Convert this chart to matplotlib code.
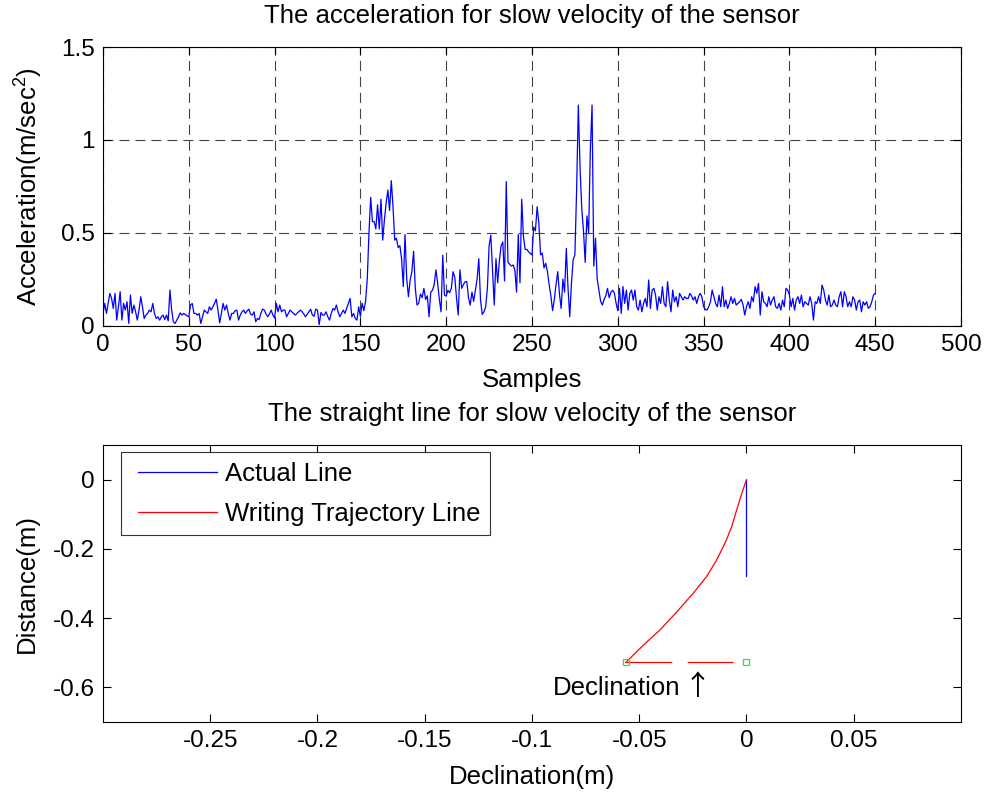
import matplotlib
matplotlib.use("Agg")
import matplotlib.pyplot as plt
from matplotlib.lines import Line2D
from matplotlib.legend_handler import HandlerLine2D
import numpy as np

plt.rcParams['font.family'] = ['Liberation Sans', 'DejaVu Sans']
plt.rcParams['mathtext.fontset'] = 'custom'
plt.rcParams['mathtext.rm'] = 'Liberation Sans'
plt.rcParams['lines.scale_dashes'] = False

# ---------------- data: top panel (acceleration per sample) ----------------
acc_seg_a = [0.065, 0.119, 0.065, 0.120, 0.173, 0.146, 0.092, 0.173, 0.029, 0.101,
             0.182, 0.029, 0.119, 0.083, 0.128, 0.011, 0.164, 0.065, 0.110, 0.074,
             0.029, 0.083, 0.155, 0.101, 0.038, 0.056, 0.065, 0.083, 0.074, 0.119,
             0.065, 0.038, 0.047, 0.029, 0.047, 0.056, 0.032, 0.056, 0.025, 0.191,
             0.083, 0.020, 0.011, 0.029, 0.047, 0.068, 0.056, 0.065, 0.059, 0.052,
             0.047, 0.110, 0.119, 0.065, 0.065, 0.056, 0.065, 0.011, 0.047, 0.083,
             0.074, 0.065, 0.101, 0.083, 0.101, 0.119, 0.142, 0.083, 0.014, 0.065,
             0.119, 0.083, 0.110, 0.065, 0.029, 0.065, 0.065, 0.080]
acc_seg_b = [0.083, 0.029, 0.056, 0.074, 0.083, 0.065, 0.079, 0.088, 0.062, 0.056,
             0.074, 0.020, 0.038, 0.032, 0.065, 0.088, 0.083, 0.062, 0.047, 0.062,
             0.083, 0.056, 0.040, 0.119, 0.074, 0.110, 0.074, 0.083, 0.083, 0.047,
             0.065, 0.083, 0.074, 0.065, 0.056, 0.065, 0.074, 0.083, 0.074, 0.062,
             0.047, 0.060, 0.074, 0.088, 0.056, 0.050, 0.088, 0.083, 0.005, 0.070,
             0.056, 0.056, 0.074, 0.047, 0.029, 0.065, 0.092, 0.083, 0.110, 0.074,
             0.047, 0.065, 0.083, 0.065, 0.092, 0.119, 0.146, 0.047, 0.065, 0.038,
             0.029, 0.100, 0.050, 0.120]
acc_seg_c = [0.08, 0.13, 0.25, 0.50, 0.69, 0.56, 0.56, 0.52, 0.65, 0.52,
             0.68, 0.46, 0.57, 0.66, 0.73, 0.62, 0.78, 0.64, 0.46, 0.47,
             0.42, 0.43, 0.36, 0.21, 0.49, 0.25, 0.155, 0.245, 0.29, 0.40,
             0.20, 0.11, 0.12, 0.17, 0.15, 0.20, 0.14, 0.16, 0.047, 0.18,
             0.19, 0.22, 0.30, 0.23, 0.14, 0.074, 0.379, 0.164, 0.158, 0.19,
             0.176, 0.20, 0.29, 0.26, 0.15, 0.056, 0.30, 0.20, 0.22, 0.236,
             0.236, 0.15, 0.11, 0.18, 0.13, 0.19, 0.25, 0.36, 0.137, 0.06,
             0.074, 0.10, 0.20, 0.43, 0.487, 0.30, 0.11]
acc_seg_d = [0.36, 0.23, 0.35, 0.43, 0.45, 0.24, 0.775, 0.34, 0.33, 0.32,
             0.326, 0.30, 0.18, 0.49, 0.23, 0.68, 0.48, 0.41, 0.41, 0.397,
             0.388, 0.38, 0.53, 0.51, 0.64, 0.55, 0.38, 0.39, 0.31, 0.335,
             0.29, 0.22, 0.16, 0.08, 0.14, 0.22, 0.29, 0.17, 0.092, 0.25,
             0.18, 0.415, 0.20, 0.047, 0.23, 0.355, 0.38, 0.73, 1.187, 0.85,
             0.63, 0.51, 0.34, 0.59, 0.50, 0.945, 1.187, 0.32, 0.47, 0.25,
             0.19, 0.13, 0.11, 0.14, 0.16, 0.20, 0.15, 0.18, 0.19, 0.175,
             0.12, 0.08, 0.20, 0.065, 0.21]
acc_seg_e = [0.119, 0.191, 0.083, 0.173, 0.191, 0.137, 0.191, 0.101, 0.083, 0.137,
             0.074, 0.119, 0.146, 0.101, 0.245, 0.092, 0.191, 0.200, 0.164, 0.083,
             0.155, 0.119, 0.209, 0.119, 0.101, 0.236, 0.137, 0.074, 0.191, 0.128,
             0.155, 0.101, 0.173, 0.155, 0.137, 0.155, 0.146, 0.146, 0.173, 0.159,
             0.137, 0.155, 0.119, 0.155, 0.173, 0.155, 0.101, 0.087, 0.083, 0.101,
             0.128, 0.191, 0.155, 0.119, 0.101, 0.164, 0.101, 0.209, 0.101, 0.137,
             0.092, 0.119, 0.155, 0.119, 0.146, 0.110, 0.119, 0.128, 0.141, 0.110,
             0.056, 0.101, 0.128, 0.092, 0.155, 0.128, 0.209]
acc_seg_f = [0.173, 0.227, 0.056, 0.182, 0.128, 0.119, 0.101, 0.155, 0.110, 0.137,
             0.155, 0.101, 0.092, 0.119, 0.083, 0.137, 0.101, 0.200, 0.191, 0.164,
             0.101, 0.146, 0.083, 0.137, 0.155, 0.119, 0.164, 0.101, 0.128, 0.119,
             0.110, 0.155, 0.119, 0.029, 0.128, 0.119, 0.155, 0.119, 0.218, 0.191,
             0.137, 0.110, 0.164, 0.101, 0.110, 0.137, 0.110, 0.101, 0.155, 0.182,
             0.101, 0.182, 0.155, 0.101, 0.128, 0.101, 0.155, 0.137, 0.083, 0.128,
             0.137, 0.074, 0.128, 0.110, 0.128, 0.092, 0.101, 0.128, 0.164, 0.173]
acceleration = acc_seg_a + acc_seg_b + acc_seg_c + acc_seg_d + acc_seg_e + acc_seg_f
samples = list(range(len(acceleration)))

top_xticks = [0, 50, 100, 150, 200, 250, 300, 350, 400, 450, 500]
top_yticks = [0, 0.5, 1, 1.5]
top_ytick_labels = ["0", "0.5", "1", "1.5"]

# ---------------- data: bottom panel ----------------
actual_x = [0.0, 0.0]
actual_y = [0.0, -0.278]
traj_x = [0.0, -0.0022, -0.0046, -0.0069, -0.0097, -0.0139, -0.0186, -0.0248,
          -0.0325, -0.0403, -0.0481, -0.0551, -0.0563]
traj_y = [0.0, -0.040, -0.088, -0.136, -0.179, -0.232, -0.280, -0.328,
          -0.382, -0.434, -0.478, -0.521, -0.528]
decl_x = [-0.0563, 0.0]
decl_y = [-0.528, -0.528]
bot_xticks = [-0.25, -0.2, -0.15, -0.1, -0.05, 0, 0.05]
bot_xtick_labels = ["-0.25", "-0.2", "-0.15", "-0.1", "-0.05", "0", "0.05"]
bot_yticks = [0, -0.2, -0.4, -0.6]
bot_ytick_labels = ["0", "-0.2", "-0.4", "-0.6"]

FS = 18.5
TFS = 17.5
fig = plt.figure(figsize=(9.86, 7.93), dpi=100)
ax1 = fig.add_axes([0.10446, 0.58953, 0.87018, 0.35120])
ax2 = fig.add_axes([0.10446, 0.08953, 0.87018, 0.34931])

def style(ax):
    for s in ax.spines.values():
        s.set_linewidth(0.8)
        s.set_color('black')
    ax.tick_params(direction='in', length=6, width=0.8, top=True, right=True,
                   labelsize=TFS, pad=6, colors='black')

# top panel
ax1.plot(samples, acceleration, color=(0, 0, 1), lw=0.9)
ax1.set_xlim(0, 500)
ax1.set_ylim(0, 1.5)
ax1.set_xticks(top_xticks)
ax1.set_xticklabels([str(t) for t in top_xticks])
ax1.set_yticks(top_yticks)
ax1.set_yticklabels(top_ytick_labels)
ax1.grid(True, color='#444444', linestyle=(0, (7.2, 4.3)), linewidth=0.8)
ax1.set_axisbelow(True)
style(ax1)
ax1.set_title("The acceleration for slow velocity of the sensor", fontsize=FS, pad=17)
ax1.set_xlabel("Samples", fontsize=FS, labelpad=9)
ax1.set_ylabel(r"Acceleration(m/sec$^\mathregular{2}$)", fontsize=FS, labelpad=12)

# bottom panel
ax2.plot(actual_x, actual_y, color=(0, 0, 1), lw=0.9, label="Actual Line")
ax2.plot(traj_x, traj_y, color=(1, 0, 0), lw=0.9, label="Writing Trajectory Line")
ax2.plot(decl_x, decl_y, color=(1, 0, 0), lw=0.9, linestyle=(0, (33, 11)))
ax2.plot(decl_x, decl_y, linestyle='none', marker='s', markersize=4,
         mfc='none', mec='#22ee22', mew=0.9)
ax2.set_xlim(-0.3, 0.1)
ax2.set_ylim(-0.7, 0.1)
ax2.set_xticks(bot_xticks)
ax2.set_xticklabels(bot_xtick_labels)
ax2.set_yticks(bot_yticks)
ax2.set_yticklabels(bot_ytick_labels)
style(ax2)
ax2.text(-0.0902, -0.602, "Declination", fontsize=FS, ha='left', va='center')
ax2.text(-0.0228, -0.598, "\u2191", fontsize=20, ha='center', va='center',
         family=['Noto Sans CJK JP', 'DejaVu Sans'])
ax2.set_title("The straight line for slow velocity of the sensor", fontsize=FS, pad=17)
ax2.set_xlabel("Declination(m)", fontsize=FS, labelpad=9)
ax2.set_ylabel("Distance(m)", fontsize=FS, labelpad=10)
leg = ax2.legend(loc='upper left', bbox_to_anchor=(0.021, 0.975), borderaxespad=0,
                 fontsize=FS, frameon=True, fancybox=False, handlelength=3.35,
                 handletextpad=0.31, borderpad=0.38, labelspacing=0.62,
                 handler_map={Line2D: HandlerLine2D(xpad=0.27)})
leg.get_frame().set_edgecolor('black')
leg.get_frame().set_linewidth(0.8)

fig.savefig("out.png", dpi=100)
